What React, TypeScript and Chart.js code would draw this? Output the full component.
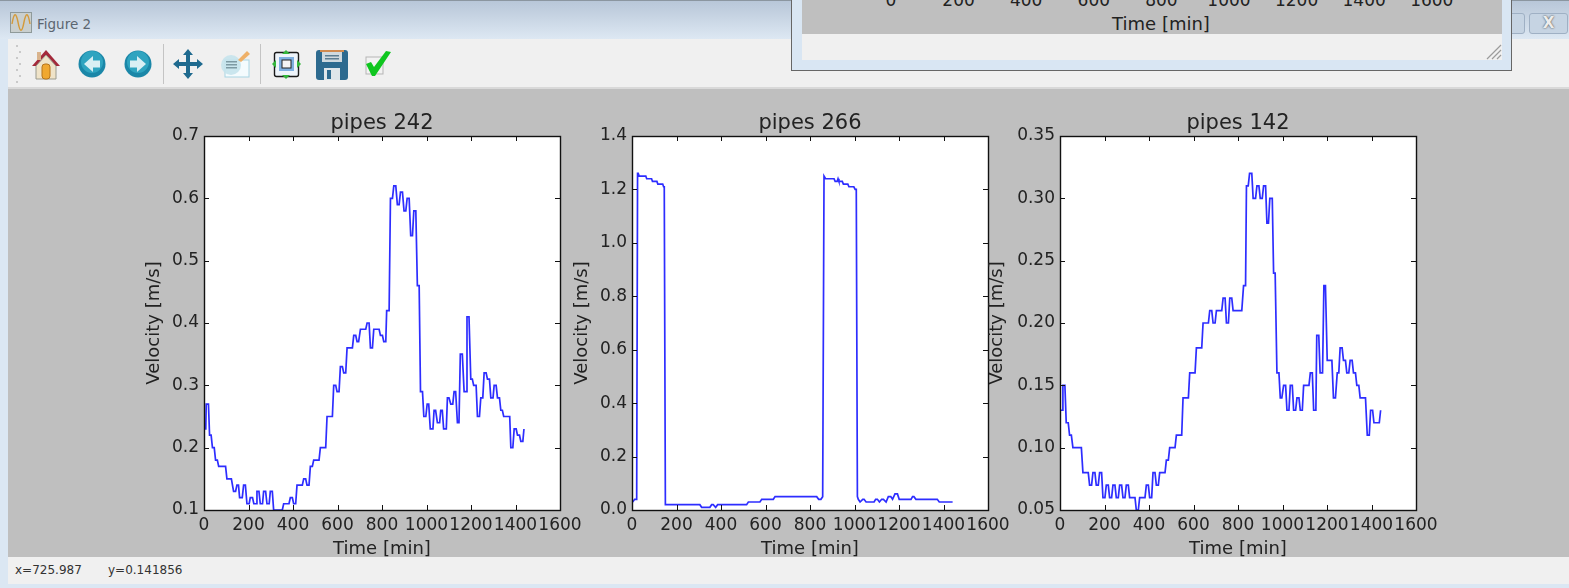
import React, { useEffect, useRef } from "react";
import { Chart, registerables } from "chart.js";

Chart.register(...registerables);

const xTicks = [0, 200, 400, 600, 800, 1000, 1200, 1400, 1600];

const time242 = [3, 8, 10, 20, 25, 32, 38, 46, 52, 60, 66, 97, 103, 123, 133, 142, 148, 155, 160, 172, 178, 186, 193, 203, 208, 218, 224, 234, 238, 247, 253, 263, 268, 277, 283, 293, 298, 307, 313, 352, 358, 382, 388, 397, 403, 412, 418, 442, 448, 457, 463, 472, 478, 487, 493, 517, 523, 547, 553, 577, 583, 592, 598, 607, 613, 622, 628, 637, 643, 667, 673, 682, 688, 695, 703, 727, 733, 742, 748, 757, 763, 787, 793, 802, 808, 817, 821, 832, 838, 847, 853, 862, 869, 877, 883, 892, 899, 907, 913, 922, 929, 937, 943, 952, 959, 967, 973, 982, 988, 997, 1003, 1010, 1017, 1029, 1034, 1041, 1049, 1059, 1064, 1071, 1077, 1089, 1094, 1101, 1109, 1118, 1124, 1131, 1139, 1146, 1152, 1161, 1169, 1178, 1182, 1191, 1199, 1206, 1212, 1223, 1229, 1238, 1244, 1253, 1259, 1268, 1274, 1283, 1289, 1299, 1304, 1313, 1319, 1328, 1334, 1341, 1347, 1374, 1379, 1388, 1394, 1403, 1409, 1418, 1424, 1433, 1438];
const vel242 = [0.23, 0.23, 0.27, 0.27, 0.22, 0.22, 0.2, 0.2, 0.18, 0.18, 0.17, 0.17, 0.15, 0.15, 0.13, 0.13, 0.14, 0.14, 0.12, 0.12, 0.14, 0.14, 0.11, 0.11, 0.12, 0.12, 0.11, 0.11, 0.13, 0.13, 0.11, 0.11, 0.13, 0.13, 0.11, 0.11, 0.13, 0.13, 0.1, 0.1, 0.11, 0.11, 0.12, 0.12, 0.11, 0.11, 0.14, 0.14, 0.15, 0.15, 0.14, 0.14, 0.17, 0.17, 0.18, 0.18, 0.2, 0.2, 0.25, 0.25, 0.3, 0.3, 0.29, 0.29, 0.33, 0.33, 0.32, 0.32, 0.36, 0.36, 0.38, 0.38, 0.37, 0.37, 0.39, 0.39, 0.4, 0.4, 0.36, 0.36, 0.39, 0.39, 0.38, 0.38, 0.37, 0.37, 0.42, 0.42, 0.6, 0.6, 0.62, 0.62, 0.59, 0.59, 0.61, 0.61, 0.58, 0.58, 0.6, 0.6, 0.54, 0.54, 0.58, 0.58, 0.46, 0.46, 0.29, 0.29, 0.25, 0.25, 0.27, 0.27, 0.23, 0.23, 0.26, 0.26, 0.24, 0.24, 0.26, 0.26, 0.23, 0.23, 0.28, 0.28, 0.27, 0.27, 0.29, 0.29, 0.24, 0.24, 0.35, 0.35, 0.29, 0.29, 0.41, 0.41, 0.31, 0.31, 0.3, 0.3, 0.25, 0.25, 0.28, 0.28, 0.32, 0.32, 0.31, 0.31, 0.28, 0.28, 0.3, 0.3, 0.28, 0.28, 0.26, 0.26, 0.25, 0.25, 0.2, 0.2, 0.23, 0.23, 0.22, 0.22, 0.21, 0.21, 0.23];

const time266 = [3, 12, 21, 25, 28, 32, 62, 66, 88, 92, 112, 116, 138, 142, 145, 150, 305, 313, 350, 358, 365, 376, 385, 515, 523, 575, 583, 635, 643, 830, 839, 849, 857, 863, 870, 908, 913, 922, 926, 930, 945, 950, 970, 975, 997, 1003, 1008, 1013, 1017, 1025, 1037, 1043, 1052, 1088, 1095, 1103, 1112, 1122, 1130, 1142, 1152, 1163, 1171, 1182, 1193, 1201, 1254, 1261, 1267, 1276, 1372, 1381, 1441];
const vel266 = [0.03, 0.04, 0.04, 1.26, 1.26, 1.25, 1.25, 1.24, 1.24, 1.23, 1.23, 1.22, 1.22, 1.21, 1.21, 0.02, 0.02, 0.01, 0.01, 0.02, 0.02, 0.01, 0.02, 0.02, 0.03, 0.03, 0.04, 0.04, 0.05, 0.05, 0.04, 0.04, 0.05, 1.25, 1.24, 1.24, 1.23, 1.23, 1.24, 1.23, 1.23, 1.22, 1.22, 1.21, 1.21, 1.2, 1.2, 0.05, 0.04, 0.03, 0.04, 0.04, 0.03, 0.03, 0.04, 0.04, 0.03, 0.04, 0.04, 0.03, 0.05, 0.05, 0.04, 0.06, 0.06, 0.04, 0.04, 0.05, 0.05, 0.04, 0.04, 0.03, 0.03];

const time142 = [3, 9, 13, 22, 28, 37, 43, 51, 58, 96, 103, 127, 133, 142, 148, 157, 163, 172, 178, 187, 193, 202, 208, 217, 223, 232, 238, 247, 253, 262, 268, 277, 283, 292, 298, 307, 313, 337, 343, 352, 358, 382, 388, 397, 403, 412, 418, 427, 433, 442, 448, 472, 478, 487, 493, 517, 523, 547, 553, 577, 583, 607, 613, 637, 643, 667, 673, 682, 688, 697, 703, 727, 733, 742, 748, 757, 763, 772, 778, 817, 825, 834, 838, 846, 852, 862, 868, 879, 885, 894, 900, 909, 915, 924, 930, 937, 943, 954, 960, 967, 975, 984, 990, 997, 1005, 1014, 1020, 1029, 1035, 1044, 1050, 1059, 1065, 1074, 1080, 1089, 1095, 1119, 1125, 1134, 1140, 1150, 1154, 1163, 1169, 1180, 1186, 1193, 1201, 1222, 1229, 1238, 1246, 1253, 1259, 1268, 1274, 1283, 1289, 1298, 1304, 1313, 1319, 1328, 1334, 1343, 1349, 1373, 1381, 1390, 1396, 1405, 1411, 1435, 1441];
const vel142 = [0.13, 0.13, 0.15, 0.15, 0.12, 0.12, 0.11, 0.11, 0.1, 0.1, 0.08, 0.08, 0.07, 0.07, 0.08, 0.08, 0.07, 0.07, 0.08, 0.08, 0.06, 0.06, 0.07, 0.07, 0.06, 0.06, 0.07, 0.07, 0.06, 0.06, 0.07, 0.07, 0.06, 0.06, 0.07, 0.07, 0.06, 0.06, 0.05, 0.05, 0.06, 0.06, 0.07, 0.07, 0.06, 0.06, 0.08, 0.08, 0.07, 0.07, 0.08, 0.08, 0.09, 0.09, 0.1, 0.1, 0.11, 0.11, 0.14, 0.14, 0.16, 0.16, 0.18, 0.18, 0.2, 0.2, 0.21, 0.21, 0.2, 0.2, 0.21, 0.21, 0.22, 0.22, 0.2, 0.2, 0.22, 0.22, 0.21, 0.21, 0.23, 0.23, 0.31, 0.31, 0.32, 0.32, 0.3, 0.3, 0.31, 0.31, 0.3, 0.3, 0.31, 0.31, 0.28, 0.28, 0.3, 0.3, 0.24, 0.24, 0.16, 0.16, 0.14, 0.14, 0.15, 0.15, 0.13, 0.13, 0.15, 0.15, 0.13, 0.13, 0.14, 0.14, 0.13, 0.13, 0.15, 0.15, 0.16, 0.16, 0.13, 0.13, 0.19, 0.19, 0.16, 0.16, 0.23, 0.23, 0.17, 0.17, 0.14, 0.14, 0.16, 0.16, 0.18, 0.18, 0.17, 0.17, 0.16, 0.16, 0.17, 0.17, 0.16, 0.16, 0.15, 0.15, 0.14, 0.14, 0.11, 0.11, 0.13, 0.13, 0.12, 0.12, 0.13];

const behindTicks = ["0", "200", "400", "600", "800", "1000", "1200", "1400", "1600"];

const FONT = "'DejaVu Sans'";
const TEXT = "#222222";

const whitePlot = {
  id: "whitePlot",
  beforeDraw(chart: any) {
    const { ctx, chartArea: a } = chart;
    ctx.save();
    ctx.fillStyle = "#ffffff";
    ctx.fillRect(a.left, a.top, a.width, a.height);
    ctx.restore();
  },
};

const insideTicks = {
  id: "insideTicks",
  afterDatasetsDraw(chart: any) {
    const { ctx, chartArea: a, scales } = chart;
    ctx.save();
    ctx.strokeStyle = "#111";
    ctx.lineWidth = 1;
    ctx.beginPath();
    for (const t of scales.x.ticks) {
      const p = Math.round(scales.x.getPixelForValue(t.value)) + 0.5;
      ctx.moveTo(p, a.bottom);
      ctx.lineTo(p, a.bottom - 5);
      ctx.moveTo(p, a.top);
      ctx.lineTo(p, a.top + 5);
    }
    for (const t of scales.y.ticks) {
      const p = Math.round(scales.y.getPixelForValue(t.value)) + 0.5;
      ctx.moveTo(a.left, p);
      ctx.lineTo(a.left + 5, p);
      ctx.moveTo(a.right, p);
      ctx.lineTo(a.right - 5, p);
    }
    ctx.stroke();
    ctx.lineWidth = 1.4;
    ctx.strokeStyle = "#111";
    ctx.strokeRect(a.left + 0.5, a.top + 0.5, a.width, a.height);
    ctx.restore();
  },
};

type PanelProps = {
  plotLeft: number;
  title: string;
  times: number[];
  values: number[];
  yMin: number;
  yMax: number;
  yStep: number;
  digits: number;
  labelPad: number;
};

function Panel({ plotLeft, title, times, values, yMin, yMax, yStep, digits, labelPad }: PanelProps) {
  const ref = useRef<HTMLCanvasElement>(null);
  useEffect(() => {
    const chart = new Chart(ref.current!, {
      type: "line",
      data: {
        datasets: [
          {
            data: times.map((t, i) => ({ x: t, y: values[i] })),
            borderColor: "rgba(16,16,255,0.88)",
            borderWidth: 1.7,
            pointRadius: 0,
            tension: 0,
            fill: false,
          },
        ],
      },
      options: {
        animation: false,
        responsive: false,
        events: [],
        layout: { autoPadding: false, padding: { right: 30 } },
        plugins: {
          legend: { display: false },
          tooltip: { enabled: false },
          title: {
            display: true,
            text: title,
            fullSize: false,
            color: TEXT,
            font: { family: FONT, size: 21, weight: "normal", lineHeight: "24px" },
            padding: { top: 6, bottom: 0 },
          },
        },
        scales: {
          x: {
            type: "linear",
            min: 0,
            max: 1600,
            afterBuildTicks: (s: any) => {
              s.ticks = xTicks.map((v) => ({ value: v }));
            },
            afterFit: (s: any) => {
              s.height = 50;
            },
            grid: { display: false, drawTicks: false },
            border: { display: false },
            ticks: {
              autoSkip: false,
              maxRotation: 0,
              padding: 5,
              color: TEXT,
              font: { family: FONT, size: 17 },
              callback: (v: any) => String(v),
            },
            title: {
              display: true,
              text: "Time [min]",
              color: TEXT,
              font: { family: FONT, size: 18 },
              padding: { top: 0, bottom: 0 },
            },
          },
          y: {
            type: "linear",
            min: yMin,
            max: yMax,
            afterFit: (s: any) => {
              s.width = 75;
            },
            grid: { display: false, drawTicks: false },
            border: { display: false },
            ticks: {
              stepSize: yStep,
              autoSkip: false,
              padding: 5,
              color: TEXT,
              font: { family: FONT, size: 17 },
              callback: (v: any) => Number(v).toFixed(digits),
            },
            title: {
              display: true,
              text: "Velocity [m/s]",
              color: TEXT,
              font: { family: FONT, size: 18 },
              padding: { top: labelPad, bottom: 0 },
            },
          },
        },
      },
      plugins: [whitePlot, insideTicks],
    } as any);
    return () => chart.destroy();
  }, []);
  return (
    <canvas
      ref={ref}
      width={461}
      height={454}
      style={{ position: "absolute", left: plotLeft - 75, top: 106, width: 461, height: 454 }}
    />
  );
}

const abs = (left: number, top: number, width: number, height: number, extra: any = {}): any => ({
  position: "absolute",
  left,
  top,
  width,
  height,
  ...extra,
});

function Toolbar() {
  const dots = [];
  for (let i = 0; i < 7; i++) {
    dots.push(<rect key={"a" + i} x={16 + (i % 2) * 3} y={45 + i * 6} width={2} height={2} fill="#c9c9c9" />);
  }
  return (
    <svg width={400} height={50} viewBox="0 39 400 50" style={{ position: "absolute", left: 0, top: 39 }}>
      {dots}
      {/* home */}
      <path d="M32 66 L46 50 L60 66 L56 66 L46 55 L36 66Z" fill="#a3293a" />
      <rect x={37} y={52} width={4} height={8} fill="#d9b38c" />
      <path d="M36 66 L46 55 L56 66 V79 H36Z" fill="#efe3c8" stroke="#9a9a8e" />
      <rect x={42} y={64} width={8} height={15} rx={3} fill="#f0a830" stroke="#b5741c" />
      {/* back */}
      <circle cx={92} cy={64} r={13.5} fill="#1b87a8" />
      <circle cx={92} cy={62} r={11} fill="#2fa4c0" />
      <path d="M84 64 L93 56 V60.5 H100 V67.5 H93 V72Z" fill="#d9eff4" />
      {/* forward */}
      <circle cx={138} cy={64} r={13.5} fill="#1b87a8" />
      <circle cx={138} cy={62} r={11} fill="#2fa4c0" />
      <path d="M146 64 L137 56 V60.5 H130 V67.5 H137 V72Z" fill="#d9eff4" />
      <rect x={163} y={44} width={1} height={40} fill="#c4c4c4" />
      {/* move */}
      <path
        d="M188 49 L193 55 H190 V62 H197 V59 L203 64 L197 69 V66 H190 V73 H193 L188 79 L183 73 H186 V66 H179 V69 L173 64 L179 59 V62 H186 V55 H183Z"
        fill="#1f6a8f"
      />
      {/* edit */}
      <rect x={225} y={60} width={24} height={17} fill="#f4fbfd" stroke="#a8d4e2" />
      <circle cx={231} cy={65} r={10} fill="#c5e3ec" opacity={0.9} />
      <rect x={226} y={61} width={11} height={1.5} fill="#7d9aa4" />
      <rect x={226} y={64} width={11} height={1.5} fill="#7d9aa4" />
      <rect x={226} y={67} width={11} height={1.5} fill="#7d9aa4" />
      <path d="M238 60 L247 51 L250 54 L241 62Z" fill="#eeb068" />
      <rect x={260} y={44} width={1} height={40} fill="#c4c4c4" />
      {/* configure */}
      <rect x={274.5} y={52.5} width={24} height={24} rx={2} fill="#eef4fa" stroke="#1a1a1a" strokeWidth={1.4} />
      <rect x={279} y={57} width={15} height={14} fill="#7fb0e0" />
      <rect x={282} y={60} width={9} height={8} fill="#f4f4f4" stroke="#222" />
      <path d="M286 50 L290 54 H282Z" fill="#34b53c" />
      <path d="M286 79 L290 75 H282Z" fill="#34b53c" />
      <path d="M272 64 L276 60 V68Z" fill="#34b53c" />
      <path d="M301 64 L297 60 V68Z" fill="#34b53c" />
      {/* save */}
      <rect x={316} y={50} width={32} height={30} rx={3} fill="#2d6a8f" />
      <rect x={322} y={50} width={20} height={12} fill="#cfd9df" />
      <rect x={320} y={50} width={24} height={2} fill="#d08a50" />
      <rect x={325} y={55} width={14} height={1.5} fill="#5b7d92" />
      <rect x={325} y={58} width={14} height={1.5} fill="#5b7d92" />
      <rect x={324} y={68} width={16} height={12} fill="#dfe6ea" />
      <rect x={327} y={70} width={4} height={9} fill="#2d6a8f" />
      {/* check */}
      <rect x={366} y={57} width={17} height={17} fill="#f2f2f2" stroke="#b5b5b5" />
      <path d="M366 64 L371 62 L374 67 L386 51 L391 52 L375 76 L372 76Z" fill="#0fc61f" />
    </svg>
  );
}

export default function App() {
  useEffect(() => {
    document.body.style.margin = "0";
    document.body.style.overflow = "hidden";
  }, []);
  return (
    <div style={{ position: "relative", width: 1569, height: 588, overflow: "hidden", background: "#dbe7f3" }}>
      <div style={abs(0, 0, 1569, 39, { background: "linear-gradient(#b7c6d8, #c6d3e2 40%, #dde8f3)" })} />
      <div style={abs(0, 0, 1569, 1, { background: "#8b96a0" })} />
      <svg width={22} height={22} style={{ position: "absolute", left: 10, top: 12 }}>
        <rect x={0.5} y={0.5} width={21} height={20} fill="#c9cfcf" stroke="#8f9a9a" />
        <path d="M2 12 C4 0 6 0 8 10 C10 21 12 21 14 10 C16 0 18 0 20 12" fill="none" stroke="#d49a3a" strokeWidth={1.4} />
      </svg>
      <div style={abs(37, 15, 80, 18, { font: `13.5px ${FONT}`, color: "#5c6670", lineHeight: "18px" })}>Figure 2</div>

      <div style={abs(8, 39, 1561, 50, { background: "#f0f0f0" })} />
      <div style={abs(8, 87, 1561, 2, { background: "#d9d9d9" })} />
      <div style={abs(8, 89, 1561, 468, { background: "#bfbfbf" })} />
      <Toolbar />

      <Panel plotLeft={204} title="pipes 242" times={time242} values={vel242} yMin={0.1} yMax={0.7} yStep={0.1} digits={1} labelPad={15} />
      <Panel plotLeft={632} title="pipes 266" times={time266} values={vel266} yMin={0} yMax={1.4} yStep={0.2} digits={1} labelPad={15} />
      <Panel plotLeft={1060} title="pipes 142" times={time142} values={vel142} yMin={0.05} yMax={0.35} yStep={0.05} digits={2} labelPad={2} />

      <div style={abs(8, 557, 1561, 27, { background: "#f0f0f0" })} />
      <div style={abs(15, 561, 90, 18, { font: `12px ${FONT}`, color: "#333", lineHeight: "18px" })}>x=725.987</div>
      <div style={abs(108, 561, 90, 18, { font: `12px ${FONT}`, color: "#333", lineHeight: "18px" })}>y=0.141856</div>

      {/* window buttons behind the overlapping window */}
      <div style={abs(1490, 13, 35, 21, { background: "#c6d4e3", border: "1px solid #9fb0c4", borderRadius: 3, boxSizing: "border-box" })} />
      <div style={abs(1529, 13, 39, 21, { background: "#c6d4e3", border: "1px solid #9fb0c4", borderRadius: 3, boxSizing: "border-box", textAlign: "center", font: `bold 15px ${FONT}`, color: "#ececec", lineHeight: "19px", textShadow: "0 0 2px #333" })}>X</div>

      {/* overlapping window */}
      <div style={abs(791, -4, 721, 75, { background: "#d9e6f3", border: "1px solid #666", borderTop: "none", boxSizing: "border-box" })} />
      <div style={abs(802, 34, 700, 26, { background: "#f0f0f0" })} />
      <div style={abs(802, 0, 700, 34, { background: "#bfbfbf" })} />
      {behindTicks.map((t, i) => (
        <div
          key={t}
          style={abs(891 + i * 67.6 - 30, -9, 60, 18, { font: `17px ${FONT}`, color: TEXT, textAlign: "center", lineHeight: "18px" })}
        >
          {t}
        </div>
      ))}
      <div style={abs(1081, 14, 160, 20, { font: `18px ${FONT}`, color: TEXT, textAlign: "center", lineHeight: "20px" })}>Time [min]</div>
      <svg width={18} height={18} style={{ position: "absolute", left: 1486, top: 43 }}>
        <path d="M1 16 L15 2 M6 16 L15 7 M11 16 L15 12" stroke="#9b9b9b" strokeWidth={1.2} />
      </svg>
    </div>
  );
}
